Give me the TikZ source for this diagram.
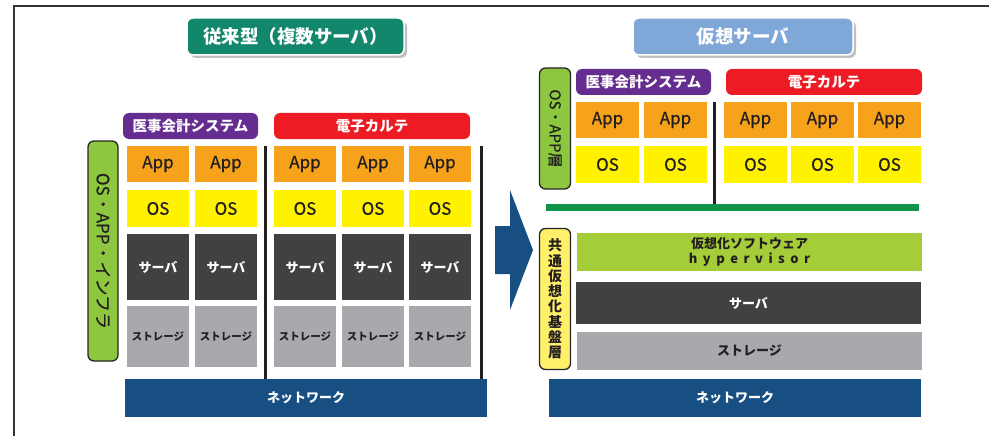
\documentclass[tikz,border=0pt]{standalone}
\usepackage{fontspec}
\setmainfont{Noto Sans CJK JP}
\usetikzlibrary{shadows}
\definecolor{framec}{HTML}{333333}
\definecolor{titlegreen}{HTML}{12876B}
\definecolor{titleblue}{HTML}{7FA7D8}
\definecolor{purplec}{HTML}{662D91}
\definecolor{redc}{HTML}{ED1C24}
\definecolor{appc}{HTML}{F7A21B}
\definecolor{osc}{HTML}{FFF200}
\definecolor{srvc}{HTML}{414042}
\definecolor{storc}{HTML}{A7A9AC}
\definecolor{netc}{HTML}{174F82}
\definecolor{lgreen}{HTML}{8DC63F}
\definecolor{hyperc}{HTML}{A5CD39}
\definecolor{barc}{HTML}{0F9449}
\definecolor{ylab}{HTML}{FFF06A}
\definecolor{txtc}{HTML}{231F20}
\definecolor{arrowc}{HTML}{174F82}
\begin{document}
\begin{tikzpicture}[x=1pt,y=-1pt,
  box/.style={anchor=north west, inner sep=0pt, outer sep=0pt, align=center},
  app/.style={box, fill=appc, minimum width=62, minimum height=36, text=txtc, font=\fontsize{17}{17}\selectfont\addfontfeature{FakeBold=0.6}},
  oscell/.style={box, fill=osc, minimum width=62, minimum height=37, text=txtc, font=\fontsize{17}{17}\selectfont\addfontfeature{FakeBold=0.6}},
  srv/.style={box, fill=srvc, text=white, font=\bfseries\fontsize{13}{13}\selectfont},
  stor/.style={box, fill=storc, text=txtc, font=\bfseries\fontsize{13}{13}\selectfont},
  net/.style={box, fill=netc, text=white, font=\bfseries\fontsize{13}{13}\selectfont},
  syslab/.style={box, rounded corners=6pt, minimum height=26, text=white, font=\bfseries\fontsize{14.5}{14.5}\selectfont},
  title/.style={inner sep=0pt, rounded corners=6pt, draw=white, line width=1.5pt, minimum height=37, text=white,
     font=\bfseries\fontsize{18.5}{18.5}\selectfont,
     drop shadow={shadow xshift=3pt, shadow yshift=-3pt, fill=gray!60, opacity=0.8}},
  layer/.style={inner sep=0pt, rounded corners=6pt, draw=black!85, line width=1.3pt, text=txtc, align=center},
  sep/.style={line width=3pt, draw=txtc}
]
\useasboundingbox (0,0) rectangle (989,436);
\fill[white] (0,0) rectangle (989,436);
\draw[framec, line width=1.5pt] (14,436) -- (14,6) -- (989,6);

% ---------- left side ----------
\node[title, fill=titlegreen, minimum width=217] (t1) at (295.5,36.5) {従来型（複数サーバ）};
\node[syslab, fill=purplec, minimum width=135] (lp) at (123,113) {医事会計システム};
\node[syslab, fill=redc, minimum width=196] (lr) at (274,113) {電子カルテ};
\node[layer, fill=lgreen, rotate=-90, minimum width=220, minimum height=30,
      font=\fontsize{17}{17}\selectfont\addfontfeature{FakeBold=0.4}] (lv) at (103,251) {OS・APP・インフラ};

\foreach \x [count=\i] in {127,195,274,342,409} {
  \node[app] (la\i) at (\x,146) {App};
  \node[oscell] (lo\i) at (\x,190) {OS};
  \node[srv, minimum width=62, minimum height=66] (ls\i) at (\x,234) {サーバ};
  \node[stor, minimum width=62, minimum height=61, font=\bfseries\fontsize{10.5}{10.5}\selectfont] (lt\i) at (\x,306) {ストレージ};
}
\node[net, minimum width=362, minimum height=38] (ln) at (125,379) {ネットワーク};
\coordinate (s1a) at (265,146); \coordinate (s1b) at (265,379);
\coordinate (s2a) at (481,146); \coordinate (s2b) at (481,379);
\draw[sep] (s1a) -- (s1b);
\draw[sep] (s2a) -- (s2b);

% ---------- arrow ----------
\fill[arrowc] (495,226) -- (510,226) -- (510,190) -- (533,250) -- (510,310) -- (510,274) -- (495,274) -- cycle;

% ---------- right side ----------
\node[title, fill=titleblue, minimum width=220] (t2) at (743,36.5) {仮想サーバ};
\node[layer, fill=lgreen, rotate=-90, minimum width=121, minimum height=31,
      font=\fontsize{15}{15}\selectfont\addfontfeature{FakeBold=0.4}] (rv) at (555,128.5) {OS・APP層};
\node[syslab, fill=purplec, minimum width=135] (rp) at (576,69) {医事会計システム};
\node[syslab, fill=redc, minimum width=196] (rr) at (726,69) {電子カルテ};
\foreach \x [count=\i] in {576,644,724,791,858} {
  \node[app, minimum width=63] (ra\i) at (\x,102) {App};
  \node[oscell, minimum width=63] (ro\i) at (\x,146) {OS};
}
\coordinate (s3a) at (714,102); \coordinate (s3b) at (714,205);
\draw[sep] (s3a) -- (s3b);
\node[box, fill=barc, minimum width=373, minimum height=7] (bar) at (546,204) {};

\node[layer, fill=ylab, minimum width=31, minimum height=141,
      font=\bfseries\fontsize{14}{15.3}\selectfont] (yv) at (555,299) {共\\通\\仮\\想\\化\\基\\盤\\層};
\node[box, fill=hyperc, minimum width=345, minimum height=38, text=txtc,
      font=\bfseries\fontsize{13}{15}\selectfont] (hv) at (577,233)
      {仮想化ソフトウェア\\h\hspace{5.5pt}y\hspace{5.5pt}p\hspace{5.5pt}e\hspace{5.5pt}r\hspace{5.5pt}v\hspace{5.5pt}i\hspace{5.5pt}s\hspace{5.5pt}o\hspace{5.5pt}r};
\node[srv, minimum width=345, minimum height=42] (rs) at (576,282) {サーバ};
\node[stor, minimum width=345, minimum height=38] (rt) at (577,332) {ストレージ};
\node[net, minimum width=372, minimum height=38] (rn) at (549,379) {ネットワーク};
\end{tikzpicture}
\end{document}
